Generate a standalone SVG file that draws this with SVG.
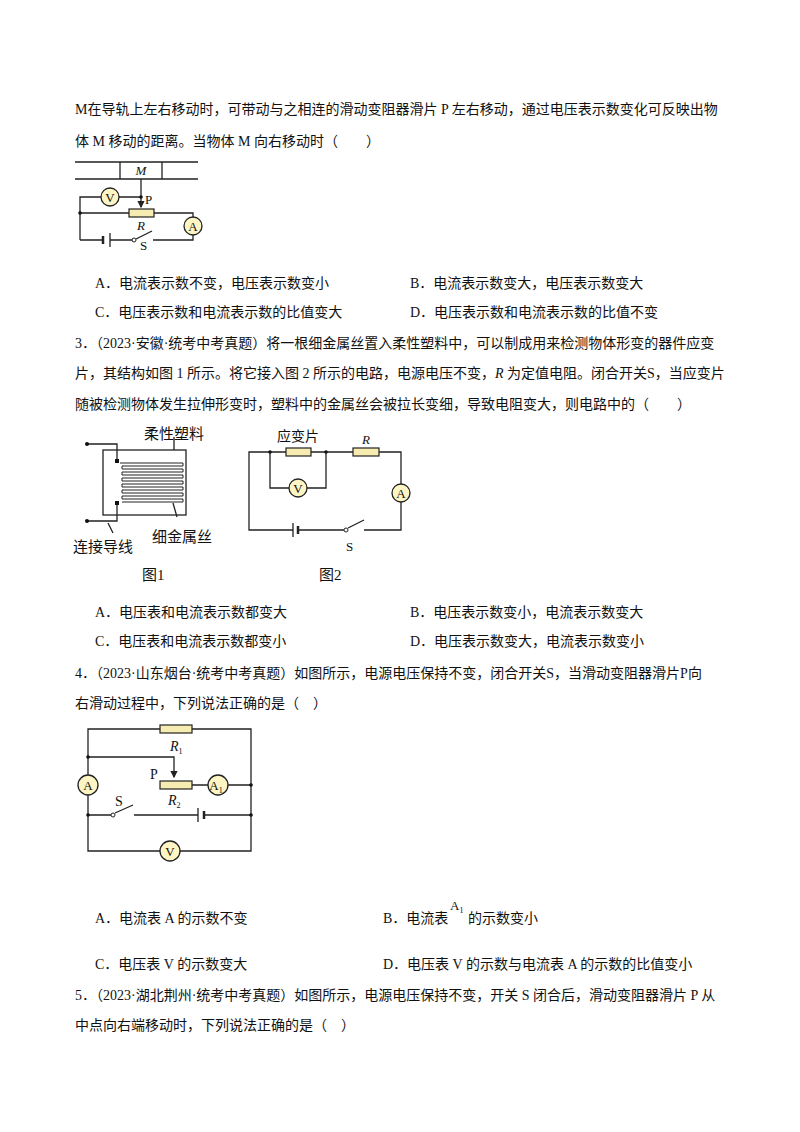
<svg xmlns="http://www.w3.org/2000/svg" width="800" height="1132" viewBox="0 0 800 1132">
<style>
text{font-family:"Liberation Serif","Noto Sans CJK SC",serif;font-size:14px;fill:#111}
.s{font-size:13px}
.f{font-size:15px}
.i{font-style:italic}
.w{fill:none;stroke:#222;stroke-width:1.3}
.r{fill:#f6ebb0;stroke:#222;stroke-width:1.2}
.m{fill:#fdf6c4;stroke:#222;stroke-width:1.3}
.ml{font-size:13px;text-anchor:middle}
.d{fill:#111}
</style>
<defs><marker id="ar" markerWidth="6" markerHeight="6" refX="5" refY="3" orient="auto"><path d="M0,0L6,3L0,6z" fill="#222"/></marker></defs>
<rect width="800" height="1132" fill="#fff"/>
<g id="text">
<text x="75" y="114">M在导轨上左右移动时，可带动与之相连的滑动变阻器滑片 P 左右移动，通过电压表示数变化可反映出物</text>
<text x="75" y="146">体 M 移动的距离。当物体 M 向右移动时（　　）</text>
<text x="95" y="288">A．电流表示数不变，电压表示数变小</text>
<text x="410" y="288">B．电流表示数变大，电压表示数变大</text>
<text x="95" y="317">C．电压表示数和电流表示数的比值变大</text>
<text x="410" y="317">D．电压表示数和电流表示数的比值不变</text>
<text x="75" y="348">3．（2023·安徽·统考中考真题）将一根细金属丝置入柔性塑料中，可以制成用来检测物体形变的器件应变</text>
<text x="75" y="378">片，其结构如图 1 所示。将它接入图 2 所示的电路，电源电压不变，<tspan class="i">R</tspan> 为定值电阻。闭合开关S，当应变片</text>
<text x="75" y="409">随被检测物体发生拉伸形变时，塑料中的金属丝会被拉长变细，导致电阻变大，则电路中的（　　）</text>
<text x="95" y="617">A．电压表和电流表示数都变大</text>
<text x="410" y="617">B．电压表示数变小，电流表示数变大</text>
<text x="95" y="646">C．电压表和电流表示数都变小</text>
<text x="410" y="646">D．电压表示数变大，电流表示数变小</text>
<text x="75" y="678">4．（2023·山东烟台·统考中考真题）如图所示，电源电压保持不变，闭合开关S，当滑动变阻器滑片P向</text>
<text x="75" y="708">右滑动过程中，下列说法正确的是（　）</text>
<text x="95" y="923">A．电流表 A 的示数不变</text>
<text x="383" y="923">B．电流表</text>
<text x="450" y="910" class="s">A<tspan font-size="8" dy="3">1</tspan></text>
<text x="468" y="923">的示数变小</text>
<text x="95" y="969">C．电压表 V 的示数变大</text>
<text x="383" y="969">D．电压表 V 的示数与电流表 A 的示数的比值变小</text>
<text x="75" y="1000">5．（2023·湖北荆州·统考中考真题）如图所示，电源电压保持不变，开关 S 闭合后，滑动变阻器滑片 P 从</text>
<text x="75" y="1030">中点向右端移动时，下列说法正确的是（　）</text>
</g>
<g id="connectors">
<path class="w" d="M75,162H198M75,179H198M120,162V179M162,162V179"/>
<path class="w" d="M141,179V207" marker-end="url(#ar)"/>
<path class="w" d="M80,240V197H101M119,197H141M80,213H129M154,213H193V217M193,235V240H153M134,240H110M103,240H80"/>
<path class="w" d="M110,233V247"/>
<path class="w" d="M103,236V244" style="stroke-width:2.5"/>
<path class="w" d="M136,239L152,231"/>
<rect x="103" y="450" width="83" height="65" class="w"/>
<path class="w" d="M87,444H117V461M87,521H117V503M174,437V450M108,523L113,533M173,503L177,517"/>
<path class="w" d="M120,463H183V466H122V469H183V472H122V475H183V478H122V481H183V484H122V487H183V490H122V493H183V496H122V499H183V502H122" style="stroke-width:1"/>
<path class="w" d="M286,452H249V530H293M298,530H344M364,530H401V502M401,484V452H379M353,452H311"/>
<path class="w" d="M270,452V488H289M307,488H326V452"/>
<path class="w" d="M293,523V537"/>
<path class="w" d="M298,526V534" style="stroke-width:2.5"/>
<path class="w" d="M348,528L364,520"/>
<path class="w" d="M88,775V729H160M192,729H251V851H180M160,851H88V795"/>
<path class="w" d="M88,757H174V777" marker-end="url(#ar)"/>
<path class="w" d="M192,785H208M228,785H251M88,815H111M134,815H198M204,815H251"/>
<path class="w" d="M198,808V822"/>
<path class="w" d="M204,811V819" style="stroke-width:2.5"/>
<path class="w" d="M115,813L133,805"/>
</g>
<g id="nodes">
<g id="c1"><rect x="129" y="209" width="25" height="8" class="r"/><circle cx="110" cy="197" r="9" class="m"/><text x="110" y="202" class="ml">V</text><circle cx="193" cy="226" r="9" class="m"/><text x="193" y="231" class="ml">A</text><circle cx="141" cy="197" r="1.8" class="d"/><circle cx="80" cy="213" r="1.8" class="d"/><circle cx="134" cy="240" r="2" fill="#fff" stroke="#222"/>
<text x="141" y="175" class="ml i">M</text><text x="145" y="204" class="s">P</text><text x="141" y="230" class="ml i">R</text><text x="140" y="250" class="s">S</text></g>
<g id="fig1"><circle cx="87" cy="444" r="2" class="d"/><circle cx="87" cy="521" r="2" class="d"/><rect x="115" y="459" width="4" height="4" class="d"/><rect x="115" y="501" width="4" height="4" class="d"/>
<text x="144" y="439" class="f">柔性塑料</text><text x="73" y="552" class="f">连接导线</text><text x="152" y="542" class="f">细金属丝</text><text x="142" y="580" class="f">图1</text></g>
<g id="fig2"><rect x="286" y="448" width="25" height="8" class="r"/><rect x="353" y="448" width="26" height="8" class="r"/><circle cx="298" cy="488" r="9" class="m"/><text x="298" y="493" class="ml">V</text><circle cx="401" cy="493" r="9" class="m"/><text x="401" y="498" class="ml">A</text><circle cx="270" cy="452" r="1.8" class="d"/><circle cx="326" cy="452" r="1.8" class="d"/><circle cx="346" cy="530" r="2" fill="#fff" stroke="#222"/>
<text x="277" y="441">应变片</text><text x="366" y="444" class="ml i">R</text><text x="346" y="551" class="s">S</text><text x="319" y="580" class="f">图2</text></g>
<g id="fig3"><rect x="160" y="725" width="32" height="8" class="r"/><rect x="160" y="781" width="32" height="8" class="r"/><circle cx="88" cy="785" r="10" class="m"/><text x="88" y="790" class="ml">A</text><circle cx="218" cy="785" r="10" class="m"/><text x="216" y="790" class="ml">A<tspan font-size="8" dy="3">1</tspan></text><circle cx="170" cy="851" r="10" class="m"/><text x="170" y="856" class="ml">V</text>
<circle cx="88" cy="757" r="1.8" class="d"/><circle cx="88" cy="815" r="1.8" class="d"/><circle cx="251" cy="785" r="1.8" class="d"/><circle cx="251" cy="815" r="1.8" class="d"/><circle cx="113" cy="815" r="2" fill="#fff" stroke="#222"/>
<text x="170" y="751" class="i">R<tspan font-size="8" dy="3" font-style="normal">1</tspan></text><text x="150" y="779">P</text><text x="168" y="805" class="i">R<tspan font-size="8" dy="3" font-style="normal">2</tspan></text><text x="115" y="806">S</text></g>
</g>
</svg>
